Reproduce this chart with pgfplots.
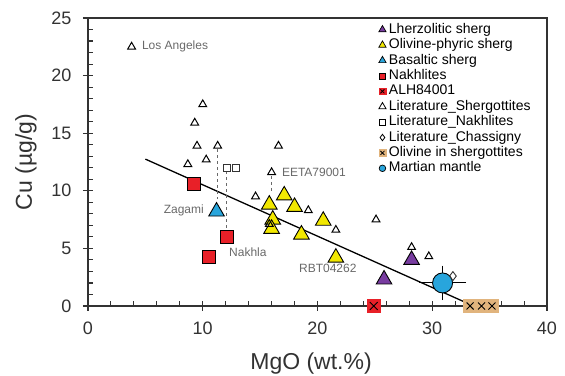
\documentclass[border=0pt]{standalone}
\usepackage{fontspec}
\setmainfont{Liberation Sans}
\usepackage{pgfplots}
\pgfplotsset{compat=1.18}
\definecolor{myyellow}{RGB}{242,232,0}
\definecolor{mypurple}{RGB}{120,60,160}
\definecolor{myblue}{RGB}{40,165,220}
\definecolor{myred}{RGB}{232,32,40}
\definecolor{mytan}{RGB}{225,180,125}
\definecolor{axgray}{RGB}{50,50,50}
\definecolor{lblgray}{RGB}{105,105,105}
\begin{document}
\begin{tikzpicture}
\begin{axis}[
  scale only axis, width=459pt, height=288pt,
  xmin=0, xmax=40, ymin=0, ymax=25,
  xtick={0,10,20,30,40}, ytick={0,5,10,15,20,25},
  minor x tick num=4, minor y tick num=4,
  tick pos=left,
  tick align=inside,
  major tick length=10pt, minor tick length=5pt,
  every major x tick/.append style={yshift=-5pt},
  every major y tick/.append style={xshift=-5pt},
  tick style={axgray, line width=1.1pt},
  axis line style={axgray, line width=1.3pt},
  /pgf/number format/assume math mode=true,
  tick label style={font=\fontsize{18}{18}\selectfont, text=axgray},
  yticklabel style={xshift=-13pt},
  xticklabel style={yshift=-12pt},
  xlabel={MgO (wt.\%)},
  ylabel={Cu (µg/g)},
  label style={font=\fontsize{23}{23}\selectfont, text=axgray},
  xlabel style={at={(axis description cs:0.486,-0.2)}, anchor=center},
  ylabel style={at={(axis description cs:-0.135,0.5)}, anchor=center},
  legend style={draw=none, fill=none, at={(axis description cs:0.628,0.985)}, anchor=north west,
    font=\fontsize{14}{15}\selectfont, row sep=1pt, inner sep=0pt,
    nodes={inner sep=0.5pt, text height=10.2pt, text depth=3.2pt}},
  legend cell align=left,
  legend image code/.code={\draw[mark repeat=2,mark phase=2,#1] plot coordinates {(0pt,0pt)(6pt,0pt)(12pt,0pt)};},
]
% regression line
\addplot[forget plot, black, line width=1.3pt] coordinates {(5,12.75)(33.6,0)};
% dashed connectors
\addplot[forget plot, lblgray, dashed, line width=0.9pt] coordinates {(11.3,13.6)(11.3,9.3)};
\addplot[forget plot, lblgray, dashed, line width=0.9pt] coordinates {(12.1,11.7)(12.1,6.8)};
\addplot[forget plot, lblgray, dashed, line width=0.9pt] coordinates {(16.0,11.3)(16.0,9.8)};
% Nakhlites
\addplot[forget plot, only marks, mark=square*, mark size=6.5pt, mark options={fill=myred, draw=black, line width=0.9pt}]
  coordinates {(9.2,10.6)(12.1,6.0)(10.5,4.3)};
% Basaltic
\addplot[forget plot, only marks, mark=triangle*, mark size=9pt, mark options={fill=myblue, draw=black, line width=0.9pt}]
  coordinates {(11.2,8.2)};
% Olivine-phyric
\addplot[forget plot, only marks, mark=triangle*, mark size=9pt, mark options={fill=myyellow, draw=black, line width=0.9pt}]
  coordinates {(15.8,8.8)(17.1,9.6)(18.0,8.6)(16.1,7.5)(16.0,6.7)(18.6,6.2)(20.5,7.4)(21.6,4.2)};
% Lherzolitic
\addplot[forget plot, only marks, mark=triangle*, mark size=9pt, mark options={fill=mypurple, draw=black, line width=0.9pt}]
  coordinates {(25.8,2.3)(28.2,4.0)};
% ALH84001
\addplot[forget plot, only marks, mark=square*, mark size=6.5pt, mark options={fill=myred, draw=myred}]
  coordinates {(24.9,0)};
\addplot[forget plot, only marks, mark=x, mark size=5.5pt, mark options={draw=black, line width=0.9pt}]
  coordinates {(24.9,0)};
% Olivine in shergottites
\addplot[forget plot, only marks, mark=square*, mark size=6.5pt, mark options={fill=mytan, draw=mytan}]
  coordinates {(33.3,0)(34.3,0)(35.2,0)};
\addplot[forget plot, only marks, mark=x, mark size=5pt, mark options={draw=black, line width=0.9pt}]
  coordinates {(33.3,0)(34.3,0)(35.2,0)};
% Literature shergottites
\addplot[forget plot, only marks, mark=triangle, mark size=4.5pt, mark options={fill=white, draw=black, line width=1pt}]
  coordinates {(3.8,22.5)(10.0,17.5)(9.3,15.9)(9.5,13.9)(11.3,13.9)(16.6,13.9)(8.7,12.3)(10.3,12.7)
  (16.0,11.6)(14.6,9.5)(19.2,8.3)(25.1,7.5)(21.6,6.6)(28.2,5.1)(29.7,4.3)(15.8,7.1)};
% Literature nakhlites
\addplot[forget plot, only marks, mark=square, mark size=3.8pt, mark options={fill=white, draw=black!80, line width=0.9pt}]
  coordinates {(12.1,12.0)(12.9,12.0)};
% Martian mantle
\addplot[forget plot, only marks, mark=*, mark size=10pt, mark options={fill=myblue, draw=black, line width=0.9pt},
  error bars/.cd, x dir=both, x explicit, y dir=both, y explicit,
  error bar style={black, line width=1pt}, error mark options={black, line width=1pt, mark size=4pt}]
  coordinates {(30.9,2.0) +- (1.7,1.15)};
% Literature Chassigny
\addplot[forget plot, only marks, mark=diamond, mark size=4.5pt, mark options={fill=white, draw=black!80, line width=0.9pt}]
  coordinates {(31.8,2.6)};
% labels
\node[lblgray, font=\fontsize{12}{12}\selectfont, anchor=west] at (axis cs:4.4,22.55) {Los Angeles};
\node[lblgray, font=\fontsize{12}{12}\selectfont, anchor=west] at (axis cs:16.6,11.6) {EETA79001};
\node[lblgray, font=\fontsize{12}{12}\selectfont, anchor=east] at (axis cs:10.4,8.3) {Zagami};
\node[lblgray, font=\fontsize{12}{12}\selectfont, anchor=west] at (axis cs:12.0,4.7) {Nakhla};
\node[lblgray, font=\fontsize{12}{12}\selectfont, anchor=center] at (axis cs:20.9,3.3) {RBT04262};
% legend
\addlegendimage{only marks, mark=triangle*, mark size=4.2pt, mark options={fill=mypurple, draw=black, line width=0.7pt}}
\addlegendentry{Lherzolitic sherg}
\addlegendimage{only marks, mark=triangle*, mark size=4.2pt, mark options={fill=myyellow, draw=black, line width=0.7pt}}
\addlegendentry{Olivine-phyric sherg}
\addlegendimage{only marks, mark=triangle*, mark size=4.2pt, mark options={fill=myblue, draw=black, line width=0.7pt}}
\addlegendentry{Basaltic sherg}
\addlegendimage{only marks, mark=square*, mark size=3pt, mark options={fill=myred, draw=black, line width=0.7pt}}
\addlegendentry{Nakhlites}
\addlegendimage{legend image code/.code={
  \path[draw=none] (0pt,0pt) -- (12pt,0pt);
  \draw[only marks, mark=square*, mark size=3.3pt, mark options={fill=myred, draw=myred}] plot coordinates {(6pt,0pt)};
  \draw[only marks, mark=x, mark size=2.8pt, mark options={draw=black, line width=0.8pt}] plot coordinates {(6pt,0pt)};}}
\addlegendentry{ALH84001}
\addlegendimage{only marks, mark=triangle, mark size=4.2pt, mark options={draw=black, line width=0.8pt}}
\addlegendentry{Literature\_Shergottites}
\addlegendimage{only marks, mark=square, mark size=3pt, mark options={draw=black, line width=0.8pt}}
\addlegendentry{Literature\_Nakhlites}
\addlegendimage{only marks, mark=diamond, mark size=3.2pt, mark options={draw=black, line width=0.8pt}}
\addlegendentry{Literature\_Chassigny}
\addlegendimage{legend image code/.code={
  \path[draw=none] (0pt,0pt) -- (12pt,0pt);
  \draw[only marks, mark=square*, mark size=3.3pt, mark options={fill=mytan, draw=mytan}] plot coordinates {(6pt,0pt)};
  \draw[only marks, mark=x, mark size=2.8pt, mark options={draw=black, line width=0.8pt}] plot coordinates {(6pt,0pt)};}}
\addlegendentry{Olivine in shergottites}
\addlegendimage{only marks, mark=*, mark size=3.3pt, mark options={fill=myblue, draw=black, line width=0.7pt}}
\addlegendentry{Martian mantle}
\end{axis}
\pgfresetboundingbox
\path ([xshift=-88pt,yshift=-70pt]current axis.south west) rectangle ([xshift=18pt,yshift=18pt]current axis.north east);
\end{tikzpicture}
\end{document}
